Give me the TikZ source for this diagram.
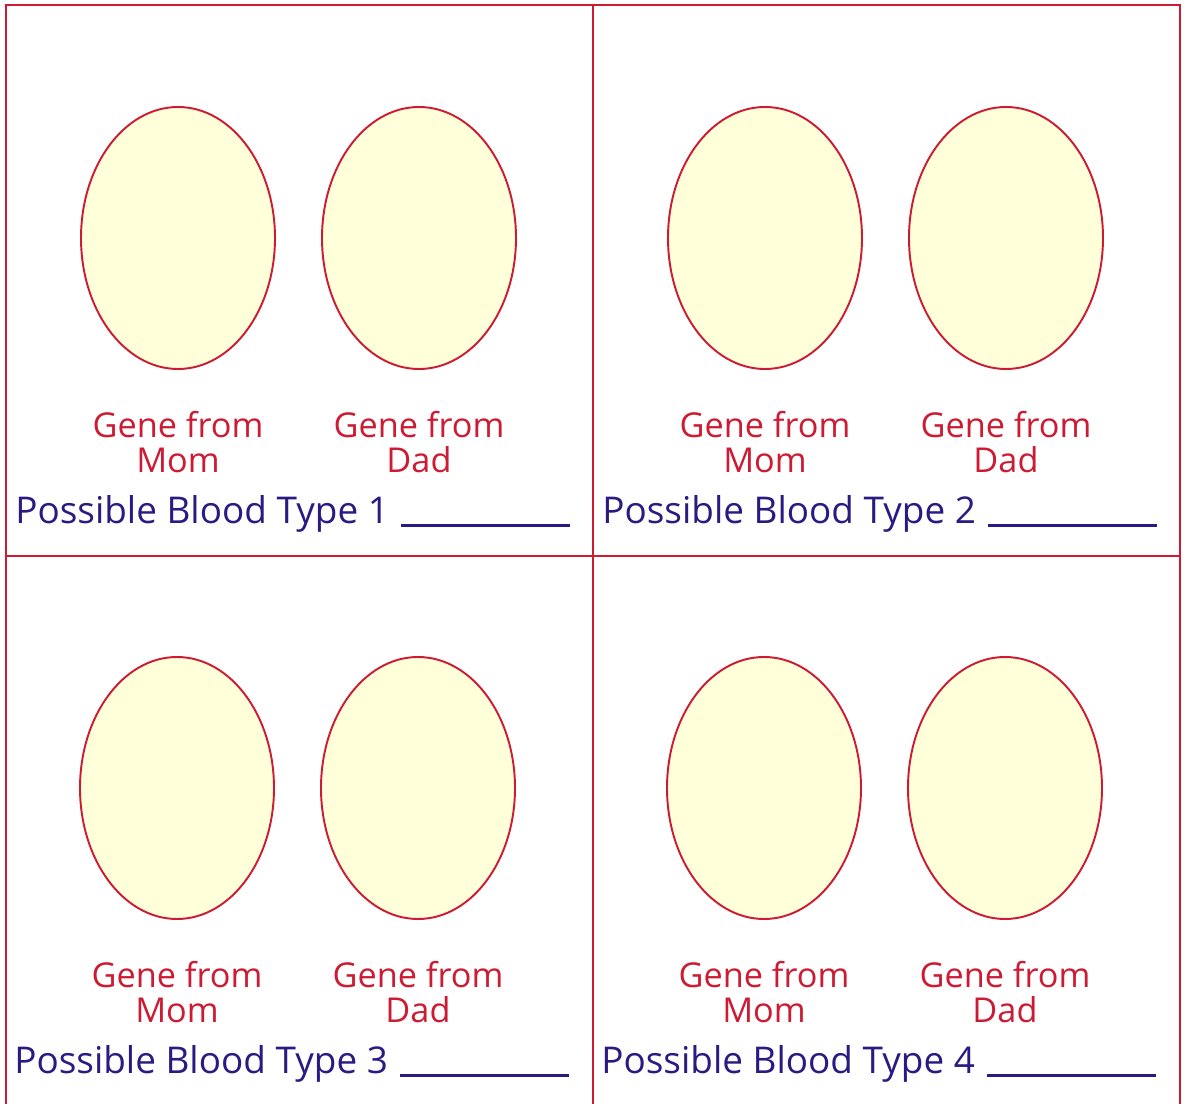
\documentclass[tikz,border=0pt]{standalone}
\usepackage{fontspec}
\setmainfont{Open Sans}
\usepackage{xcolor}
\usepackage{tikz}
\usetikzlibrary{positioning, shapes.geometric}

\definecolor{cardred}{HTML}{CC1B33}
\definecolor{cardblue}{HTML}{2C1A82}
\definecolor{eggfill}{HTML}{FFFFDA}

\begin{document}
\begin{tikzpicture}[
			x=0.02cm, y=-0.02cm,
			gene/.style={draw=cardred, line width=1.1pt, fill=eggfill, ellipse,
				minimum width=194*0.02cm, minimum height=262*0.02cm, inner sep=0pt},
			genelabel/.style={text=cardred, align=center, font=\fontsize{19.5}{20}\selectfont},
			typelabel/.style={text=cardblue, anchor=west, inner sep=0pt, font=\fontsize{21}{22}\selectfont}
			]
			\useasboundingbox (0,0) rectangle (1184,1104);
			
			% frame of the four cards
			\draw[cardred, line width=1.4pt] (6,1104) -- (6,5) -- (1180,5) -- (1180,1104);
			\draw[cardred, line width=1.4pt] (593,5) -- (593,1104);
			\draw[cardred, line width=1.4pt] (6,556) -- (1180,556);
			
			\foreach \i/\dx/\dy in {1/0/0, 2/587/0, 3/-1/550, 4/586/550}{
				\node[gene] (mom\i) at (178+\dx,238+\dy) {};
				\node[gene] (dad\i) at (419+\dx,238+\dy) {};
				\node[genelabel] (momlbl\i) at (178+\dx,442+\dy) {Gene from\\Mom};
				\node[genelabel] (dadlbl\i) at (419+\dx,442+\dy) {Gene from\\Dad};
				\node[typelabel] (type\i) at (15+\dx,514+\dy)
					{Possible Blood Type \i\hspace{7pt}\rule[-2pt]{96pt}{1.7pt}};
			}
			
%			\node[below=0.1cm of type1] {};
		\end{tikzpicture}
\end{document}
